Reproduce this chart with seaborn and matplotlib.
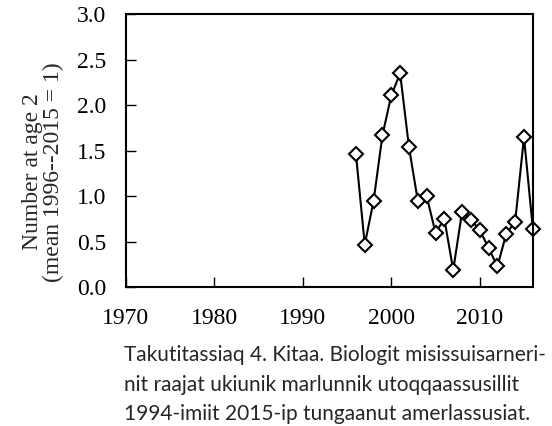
import numpy as np
import pandas as pd
import matplotlib
matplotlib.use('Agg')
import matplotlib.pyplot as plt
import seaborn as sns

years = [1996, 1997, 1998, 1999, 2000, 2001, 2002, 2003, 2004, 2005, 2006,
         2007, 2008, 2009, 2010, 2011, 2012, 2013, 2014, 2015, 2016]
number_age2 = [1.47, 0.47, 0.95, 1.67, 2.11, 2.35, 1.54, 0.95, 1.00, 0.60, 0.75,
               0.19, 0.83, 0.74, 0.63, 0.43, 0.23, 0.59, 0.72, 1.65, 0.64]
xticks = [1970, 1980, 1990, 2000, 2010]
yticks = [0.0, 0.5, 1.0, 1.5, 2.0, 2.5, 3.0]
caption = ("Takutitassiaq 4. Kitaa. Biologit misissuisarneri-\n"
           "nit raajat ukiunik marlunnik utoqqaassusillit\n"
           "1994-imiit 2015-ip tungaanut amerlassusiat.")

df = pd.DataFrame({'year': years, 'n': number_age2})

sns.set_style('ticks')
plt.rcParams['font.family'] = ['Liberation Serif', 'DejaVu Serif']

fig = plt.figure(figsize=(5.52, 4.26), dpi=100)
ax = fig.add_axes([0.228, 0.3256, 0.7373, 0.6408])

sns.lineplot(data=df, x='year', y='n', ax=ax, color='black', linewidth=1.5,
             marker='D', markersize=7.5, markerfacecolor='white',
             markeredgecolor='black', markeredgewidth=1.5, clip_on=False)

ax.set_xlim(1970, 2016)
ax.set_ylim(0, 3.0)
ax.set_xticks(xticks)
ax.set_yticks(yticks)
ax.set_yticklabels([f'{v:.1f}' for v in yticks])
ax.tick_params(direction='in', length=7, width=1, labelsize=17, colors='black',
               top=False, right=False)
ax.tick_params(axis='x', pad=15)
ax.tick_params(axis='y', pad=14)
for s in ax.spines.values():
    s.set_visible(True)
    s.set_linewidth(1.5)
    s.set_color('black')
ax.set_xlabel('')
ax.set_ylabel('')

# two-line y label, placed by hand left of the tick labels
fig.text(43 / 552, 1 - 172 / 426, 'Number at age 2\n(mean 1996--2015 = 1)',
         fontsize=17, rotation=90, ha='center', va='center',
         multialignment='center', linespacing=1.0)

fig.text(0.224, 1 - 345 / 426, caption, fontsize=15, family=['Lato', 'DejaVu Sans'],
         va='top', ha='left', linespacing=1.6)

fig.savefig('out.png', dpi=100)
